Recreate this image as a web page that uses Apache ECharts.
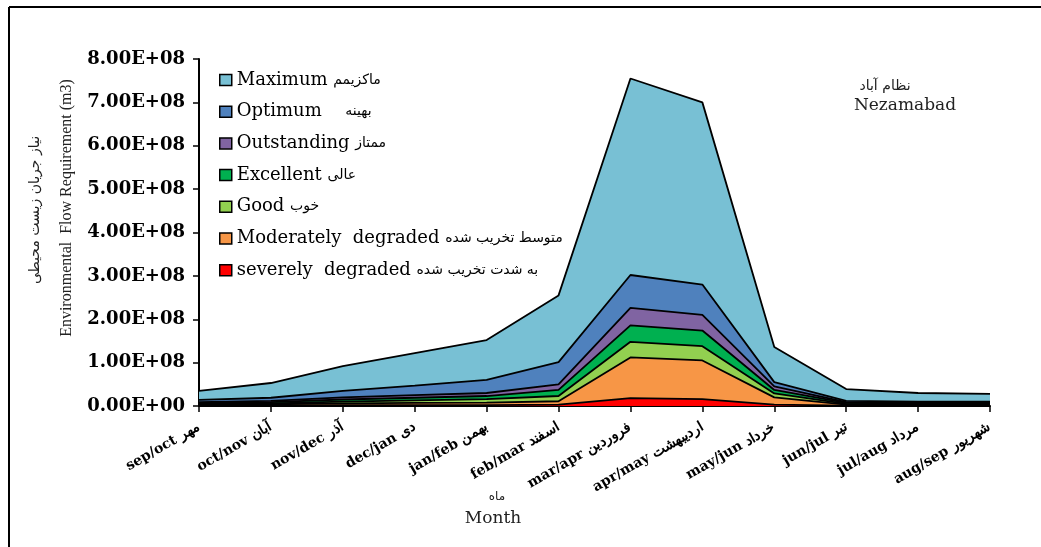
<!DOCTYPE html>
<html>
<head>
<meta charset="utf-8">
<script src="https://cdn.jsdelivr.net/npm/echarts@6/dist/echarts.min.js"></script>
<style>html,body{margin:0;padding:0;background:#fff;}#c{width:1041px;height:547px;}</style>
</head>
<body>
<div id="c"></div>
<script>
const categories = ['sep/oct مهر','oct/nov آبان','nov/dec آذر','dec/jan دی','jan/feb بهمن','feb/mar اسفند','mar/apr فروردین','apr/may اردیبهشت','may/jun خرداد','jun/jul تیر','jul/aug مرداد','aug/sep شهریور'];
const seriesNames = ['Maximum','Optimum','Outstanding','Excellent','Good','Moderately  degraded','severely  degraded'];
const seriesNamesFa = ['ماکزیمم','    بهینه','ممتاز','عالی','خوب','متوسط تخریب شده','به شدت تخریب شده'];
const maximum     = [3.5e7, 5.3e7, 9.2e7, 1.22e8, 1.52e8, 2.55e8, 7.55e8, 7.0e8, 1.36e8, 3.9e7, 3.0e7, 2.8e7];
const optimum     = [1.4e7, 1.9e7, 3.5e7, 4.7e7, 6.0e7, 1.01e8, 3.02e8, 2.8e8, 5.5e7, 1.2e7, 1.0e7, 1.0e7];
const outstanding = [9e6, 1.2e7, 2.0e7, 2.5e7, 3.0e7, 5.0e7, 2.26e8, 2.1e8, 4.5e7, 9e6, 8e6, 8e6];
const excellent   = [7e6, 9e6, 1.5e7, 1.9e7, 2.3e7, 3.7e7, 1.86e8, 1.74e8, 3.7e7, 7e6, 6e6, 6e6];
const good        = [5e6, 6e6, 1.0e7, 1.3e7, 1.6e7, 2.3e7, 1.48e8, 1.38e8, 2.9e7, 5e6, 4e6, 4e6];
const moderately  = [3e6, 4e6, 6e6, 7e6, 8e6, 1.1e7, 1.12e8, 1.05e8, 2.0e7, 3e6, 3e6, 3e6];
const severely    = [1e6, 1e6, 2e6, 2e6, 2e6, 3e6, 1.8e7, 1.6e7, 3e6, 1e6, 1e6, 1e6];
const seriesData = [maximum, optimum, outstanding, excellent, good, moderately, severely];
const colors = ['#78C0D4','#4F81BD','#8064A2','#00B050','#92D050','#F79646','#FF0000'];
const yTicks = {min: 0, max: 8e8, interval: 1e8};

function fmtE(v){
  if (v === 0) return '0.00E+00';
  const e = Math.floor(Math.log10(v) + 1e-9);
  const m = v / Math.pow(10, e);
  return m.toFixed(2) + 'E+' + (e < 10 ? '0' + e : e);
}

const chart = echarts.init(document.getElementById('c'));
const option = {
  backgroundColor: '#fff',
  animation: false,
  grid: {left: 199, right: 51, top: 59, bottom: 141, containLabel: false},
  legend: {
    orient: 'vertical', left: 214, top: 66,
    itemWidth: 12, itemHeight: 11, itemGap: 13.7,
    icon: 'rect',
    data: seriesNames.map((n, i) => ({name: n, itemStyle: {color: colors[i], borderColor: '#000', borderWidth: 1.5}})),
    formatter: function(name){ const i = seriesNames.indexOf(name); return '{en|' + name + '} {fa|' + seriesNamesFa[i] + '}'; },
    textStyle: {
      fontFamily: 'DejaVu Serif', fontSize: 18, color: '#000', lineHeight: 18,
      rich: {
        en: {fontFamily: 'DejaVu Serif', fontSize: 18, color: '#000', lineHeight: 18},
        fa: {fontFamily: 'DejaVu Sans', fontSize: 14, color: '#000', lineHeight: 18}
      }
    }
  },
  xAxis: {
    type: 'category', data: categories, boundaryGap: false,
    axisLine: {lineStyle: {color: '#000', width: 2}},
    axisTick: {show: true, length: 6, lineStyle: {color: '#000', width: 1.5}},
    axisLabel: {interval: 0, rotate: 30, margin: 20, color: '#000', fontFamily: 'DejaVu Serif', fontWeight: 'bold', fontSize: 14}
  },
  yAxis: {
    type: 'value', min: yTicks.min, max: yTicks.max, interval: yTicks.interval,
    splitLine: {show: false},
    axisLine: {show: true, lineStyle: {color: '#000', width: 2}},
    axisTick: {show: true, length: 6, lineStyle: {color: '#000', width: 1.5}},
    axisLabel: {formatter: fmtE, margin: 14, color: '#000', fontFamily: 'DejaVu Serif', fontWeight: 'bold', fontSize: 18}
  },
  graphic: [
    {type: 'line', shape: {x1: 9, y1: 7, x2: 1041, y2: 7}, style: {stroke: '#000', lineWidth: 2}},
    {type: 'line', shape: {x1: 9, y1: 7, x2: 9, y2: 547}, style: {stroke: '#000', lineWidth: 2}},
    {type: 'text', x: 35, y: 210, rotation: Math.PI/2, style: {text: 'نیاز جریان زیست محیطی', font: '14px "DejaVu Sans"', fill: '#222', textAlign: 'center', textVerticalAlign: 'middle'}},
    {type: 'text', x: 67, y: 208, rotation: Math.PI/2, style: {text: 'Environmental  Flow Requirement (m3)', font: '16px "Liberation Serif"', fill: '#222', textAlign: 'center', textVerticalAlign: 'middle'}},
    {type: 'text', x: 497, y: 497, style: {text: 'ماه', font: '12px "DejaVu Sans"', fill: '#222', textAlign: 'center', textVerticalAlign: 'middle'}},
    {type: 'text', x: 493, y: 519, style: {text: 'Month', font: '17px "DejaVu Serif"', fill: '#222', textAlign: 'center', textVerticalAlign: 'middle'}},
    {type: 'text', x: 885, y: 86, style: {text: 'نظام آباد', font: '14px "DejaVu Sans"', fill: '#222', textAlign: 'center', textVerticalAlign: 'middle'}},
    {type: 'text', x: 905, y: 106, style: {text: 'Nezamabad', font: '17px "DejaVu Serif"', fill: '#222', textAlign: 'center', textVerticalAlign: 'middle'}}
  ],
  series: seriesNames.map((n, i) => ({
    name: n, type: 'line', data: seriesData[i], symbol: 'none', color: colors[i],
    lineStyle: {color: '#000', width: 1.8},
    areaStyle: {color: colors[i], opacity: 1},
    z: 2
  }))
};
chart.setOption(option);
</script>
</body>
</html>
